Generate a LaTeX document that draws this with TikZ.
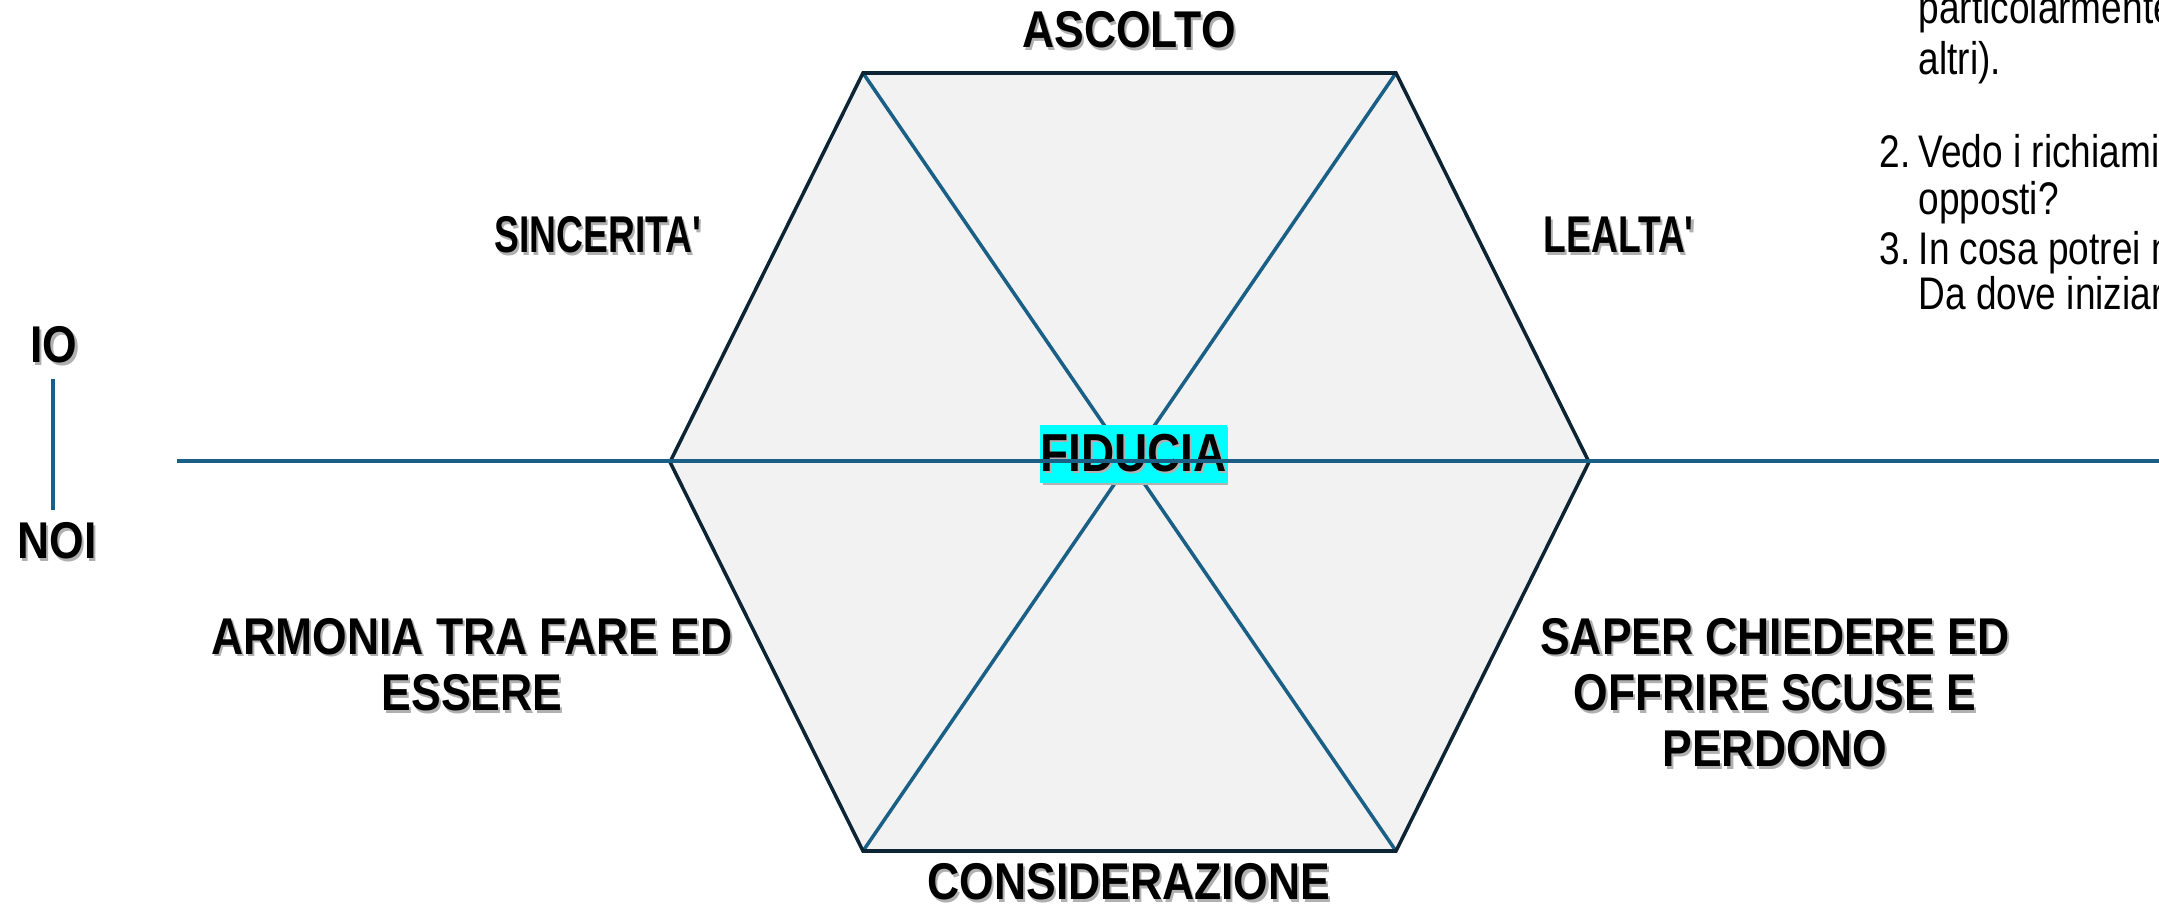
\documentclass[tikz,border=0pt]{standalone}
\usepackage{fontspec}
\setmainfont{Liberation Sans}
\newfontfamily\lblfont[FakeStretch=0.86]{Liberation Sans}
\newfontfamily\lblnfont[FakeStretch=0.72]{Liberation Sans}
\newfontfamily\txtfont[FakeStretch=0.81]{Liberation Sans}
\definecolor{hexedge}{HTML}{0C2434}
\definecolor{diagblue}{HTML}{1A6086}
\definecolor{hexfill}{HTML}{F2F2F2}
\definecolor{shadowgray}{HTML}{B0B0B0}
\definecolor{fidcyan}{HTML}{00FFFF}
\newcommand\shd[1]{\leavevmode\rlap{\kern0.6pt\raisebox{-0.7pt}{\color{shadowgray}#1}}#1}
\tikzset{
  lbl/.style={inner sep=0pt, align=center, font=\lblfont\bfseries\fontsize{14.7}{16}\selectfont},
  lbln/.style={inner sep=0pt, align=center, font=\lblnfont\bfseries\fontsize{14.7}{16}\selectfont},
  rtxt/.style={inner sep=0pt, anchor=base west, font=\txtfont\fontsize{13}{15}\selectfont},
  hexline/.style={draw=hexedge, line width=1pt, line join=miter},
  diag/.style={draw=diagblue, line width=1pt},
}
\begin{document}
\begin{tikzpicture}[x=0.01cm,y=-0.01cm]
\useasboundingbox (0,0) rectangle (2159,906);
\clip (0,0) rectangle (2159,906);
% hexagon
\coordinate (TL) at (863,73);
\coordinate (TR) at (1396,73);
\coordinate (R) at (1589,462);
\coordinate (BR) at (1396,851);
\coordinate (BL) at (863,851);
\coordinate (L) at (670,462);
\fill[hexfill] (TL) -- (TR) -- (R) -- (BR) -- (BL) -- (L) -- cycle;
\draw[diag] (TL) -- (BR);
\draw[diag] (TR) -- (BL);
\draw[hexline] (TL) -- (TR) -- (R) -- (BR) -- (BL) -- (L) -- cycle;
% FIDUCIA
\fill[black!30] (1043,427) rectangle (1228,485);
\node[fill=fidcyan, minimum width=185*0.01cm, minimum height=58*0.01cm, inner sep=0pt,
  font=\lblfont\bfseries\fontsize{15.2}{16}\selectfont] (fid) at (1133.5,454) {\shd{FIDUCIA}};
% horizontal axis
\coordinate (axL) at (177,461);
\coordinate (axR) at (2170,461);
\draw[diag] (axL) -- (axR);
% labels
\node[lbl] (ascolto) at (1129,31) {\shd{ASCOLTO}};
\node[lbln, anchor=east] (sinc) at (702,236) {\shd{SINCERITA'}};
\node[lbln, anchor=west] (leal) at (1543,236) {\shd{LEALTA'}};
\node[lbl] (armonia) at (472,666) {\shd{ARMONIA TRA FARE ED}\\\shd{ESSERE}};
\node[lbl] (saper) at (1775,694) {\shd{SAPER CHIEDERE ED}\\\shd{OFFRIRE SCUSE E}\\\shd{PERDONO}};
\node[lbl] (consid) at (1129,883) {\shd{CONSIDERAZIONE}};
% IO / NOI
\node[lbl] (io) at (54,346) {\shd{IO}};
\node[lbl] (noi) at (57,542) {\shd{NOI}};
\coordinate (vtop) at (53,379);
\coordinate (vbot) at (53,510);
\draw[diag] (vtop) -- (vbot);
% right text
\node[rtxt] (t1) at (1918,24) {particolarmente};
\node[rtxt] (t2) at (1918,74) {altri).};
\node[rtxt] (n2) at (1879,167) {2.};
\node[rtxt] (t3) at (1918,167) {Vedo i richiami};
\node[rtxt] (t4) at (1918,215) {opposti?};
\node[rtxt] (n3) at (1879,264) {3.};
\node[rtxt] (t5) at (1918,264) {In cosa potrei m};
\node[rtxt] (t6) at (1918,309) {Da dove iniziare};
\end{tikzpicture}
\end{document}
